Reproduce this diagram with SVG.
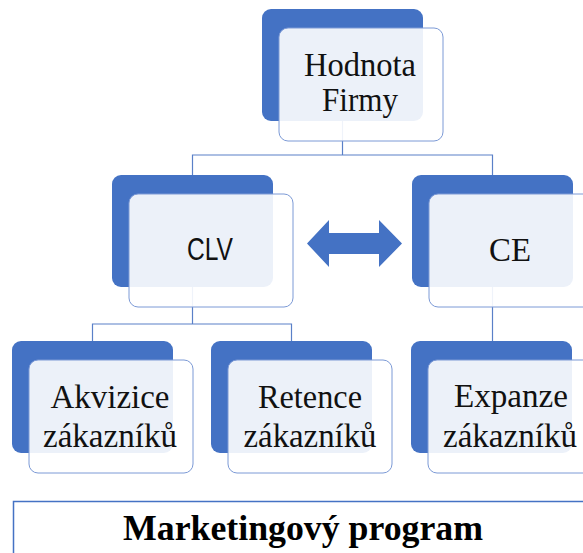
<svg xmlns="http://www.w3.org/2000/svg" width="583" height="553" viewBox="0 0 583 553">
  <style>
    .back { fill: #4472C4; }
    .front { fill: #FFFFFF; fill-opacity: 0.9; stroke: #7C9AD6; stroke-width: 1; }
    .link { fill: none; stroke: #5A80C8; stroke-width: 1.2; }
    .lbl { font-family: "Liberation Serif", "DejaVu Serif", serif; font-size: 33px; fill: #111; text-anchor: middle; }
    .sans { font-family: "Liberation Sans", "DejaVu Sans", sans-serif; font-size: 31px; fill: #111; text-anchor: middle; }
    .prog { font-family: "Liberation Serif", "DejaVu Serif", serif; font-size: 36px; font-weight: bold; fill: #000; text-anchor: middle; }
  </style>
  <defs>
    <rect id="backCard" class="back" width="161" height="112" rx="9"/>
    <rect id="frontCard" class="front" width="164" height="113" rx="9"/>
  </defs>

  <!-- connectors -->
  <g id="connectors">
    <polyline class="link" points="342.5,120 342.5,155"/>
    <polyline class="link" points="192.5,175 192.5,155 492.5,155 492.5,175"/>
    <polyline class="link" points="192.5,287 192.5,324"/>
    <polyline class="link" points="92.5,341 92.5,324 291.5,324 291.5,341"/>
    <polyline class="link" points="492.5,287 492.5,341"/>
  </g>

  <!-- top node -->
  <g id="node-hodnota">
    <use href="#backCard" x="262" y="9"/>
    <use href="#frontCard" x="279" y="28"/>
    <text class="lbl" x="360" y="76" textLength="112" lengthAdjust="spacingAndGlyphs">Hodnota</text>
    <text class="lbl" x="360" y="111" textLength="76" lengthAdjust="spacingAndGlyphs">Firmy</text>
  </g>

  <g id="node-clv">
    <use href="#backCard" x="112" y="175"/>
    <use href="#frontCard" x="129" y="194"/>
    <text class="sans" x="210" y="260" textLength="46" lengthAdjust="spacingAndGlyphs">CLV</text>
  </g>

  <g id="node-ce">
    <use href="#backCard" x="412" y="175"/>
    <use href="#frontCard" x="429" y="194"/>
    <text class="lbl" x="510" y="261" textLength="42" lengthAdjust="spacingAndGlyphs">CE</text>
  </g>

  <!-- two-way arrow between CLV and CE -->
  <g id="arrow-clv-ce">
    <polygon class="back" points="307,243.5 329,220 329,233 379,233 379,220 402,243.5 379,267 379,254 329,254 329,267"/>
  </g>

  <g id="node-akvizice">
    <use href="#backCard" x="12" y="341"/>
    <use href="#frontCard" x="29" y="360"/>
    <text class="lbl" x="110" y="408" textLength="119" lengthAdjust="spacingAndGlyphs">Akvizice</text>
    <text class="lbl" x="110" y="447" textLength="134" lengthAdjust="spacingAndGlyphs">zákazníků</text>
  </g>

  <g id="node-retence">
    <use href="#backCard" x="211" y="341"/>
    <use href="#frontCard" x="228" y="360"/>
    <text class="lbl" x="310" y="408" textLength="104" lengthAdjust="spacingAndGlyphs">Retence</text>
    <text class="lbl" x="310" y="447" textLength="133" lengthAdjust="spacingAndGlyphs">zákazníků</text>
  </g>

  <g id="node-expanze">
    <use href="#backCard" x="411" y="341"/>
    <use href="#frontCard" x="428" y="360"/>
    <text class="lbl" x="511" y="407" textLength="114" lengthAdjust="spacingAndGlyphs">Expanze</text>
    <text class="lbl" x="510" y="447" textLength="134" lengthAdjust="spacingAndGlyphs">zákazníků</text>
  </g>

  <!-- base bar -->
  <g id="node-program">
    <rect x="13.5" y="501.5" width="600" height="100" fill="#FFFFFF" stroke="#4472C4" stroke-width="1.5"/>
    <text class="prog" x="303" y="540" textLength="360" lengthAdjust="spacingAndGlyphs">Marketingový program</text>
  </g>
</svg>
